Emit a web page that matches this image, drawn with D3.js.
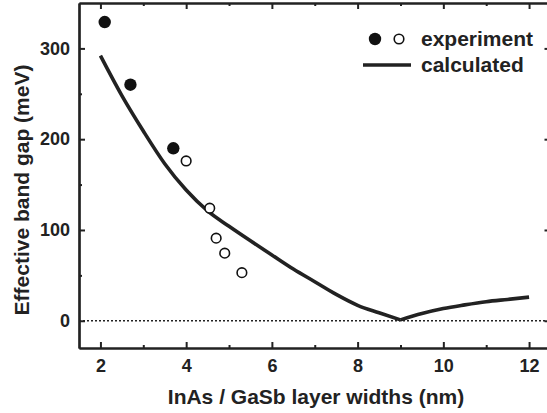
<!DOCTYPE html>
<html>
<head>
<meta charset="utf-8">
<script src="https://cdn.jsdelivr.net/npm/d3@7"></script>
<style>
  html, body { margin: 0; padding: 0; background: #fff; }
  svg { display: block; }
  text { font-family: "Liberation Sans", Arial, sans-serif; font-weight: bold; fill: #222; }
</style>
</head>
<body>
<svg id="chart" width="547" height="413"></svg>
<script>
// ---- data ----
const filledX = [2.1, 2.7, 3.7];
const filledY = [329, 260, 190];
const openX = [4.0, 4.55, 4.7, 4.9, 5.3];
const openY = [176, 124, 91, 74.5, 53];
const calcX = [2, 2.5, 3, 3.5, 4, 4.5, 5, 5.5, 6, 6.5, 7, 7.5, 8, 8.5, 9, 9.5, 10, 10.5, 11, 11.5, 12];
const calcY = [292, 248, 209, 173, 144, 121, 104, 88, 72.5, 57, 43, 29, 17, 8.8, 1, 8, 13.5, 17.5, 21, 23.5, 26];
const xTicks = [2, 4, 6, 8, 10, 12];
const xMinor = [3, 5, 7, 9, 11];
const yTicks = [0, 100, 200, 300];
const yMinor = [50, 150, 250];
const xTitle = "InAs / GaSb layer widths (nm)";
const yTitle = "Effective band gap (meV)";
const legendLabels = ["experiment", "calculated"];

// ---- layout ----
const L = 79, R = 550.5, T = 3, B = 348;
const svg = d3.select("#chart");
const x = d3.scaleLinear().domain([1.5, 12.5]).range([L, R]);
const y = d3.scaleLinear().domain([-30, 350]).range([B, T]);
const ink = "#222";

function styleAxis(g) {
  g.selectAll("path.domain").attr("stroke", ink).attr("stroke-width", 2.2);
  g.selectAll(".tick line").attr("stroke", ink).attr("stroke-width", 2);
  g.selectAll(".tick text").style("font-size", "18px").attr("fill", ink);
}

// minor ticks
svg.append("g").attr("transform", `translate(0,${B})`)
  .call(d3.axisBottom(x).tickValues(xMinor).tickSize(-3).tickSizeOuter(0).tickFormat(""))
  .call(styleAxis);
svg.append("g").attr("transform", `translate(0,${T})`)
  .call(d3.axisTop(x).tickValues(xMinor).tickSize(-3).tickSizeOuter(0).tickFormat(""))
  .call(styleAxis);
svg.append("g").attr("transform", `translate(${L},0)`)
  .call(d3.axisLeft(y).tickValues(yMinor).tickSize(-3).tickSizeOuter(0).tickFormat(""))
  .call(styleAxis);
svg.append("g").attr("transform", `translate(${R},0)`)
  .call(d3.axisRight(y).tickValues(yMinor).tickSize(-3).tickSizeOuter(0).tickFormat(""))
  .call(styleAxis);

// major axes
svg.append("g").attr("transform", `translate(0,${B})`)
  .call(d3.axisBottom(x).tickValues(xTicks).tickSize(-6).tickSizeOuter(0).tickPadding(11).tickFormat(d3.format("d")))
  .call(styleAxis);
svg.append("g").attr("transform", `translate(0,${T})`)
  .call(d3.axisTop(x).tickValues(xTicks).tickSize(-6).tickSizeOuter(0).tickFormat(""))
  .call(styleAxis);
svg.append("g").attr("transform", `translate(${L},0)`)
  .call(d3.axisLeft(y).tickValues(yTicks).tickSize(-6).tickSizeOuter(0).tickPadding(9).tickFormat(d3.format("d")))
  .call(styleAxis);
svg.append("g").attr("transform", `translate(${R},0)`)
  .call(d3.axisRight(y).tickValues(yTicks).tickSize(-6).tickSizeOuter(0).tickFormat(""))
  .call(styleAxis);

// zero dotted line
svg.append("line")
  .attr("x1", x(1.5)).attr("x2", x(12.5)).attr("y1", y(0)).attr("y2", y(0))
  .attr("stroke", ink).attr("stroke-width", 1.6).attr("stroke-dasharray", "2,2");

// calculated curve: two branches meeting at the minimum (V shape)
const calc = calcX.map((d, i) => [d, calcY[i]]);
const minIdx = calcY.indexOf(d3.min(calcY));
const lineGen = d3.line().x(d => x(d[0])).y(d => y(d[1])).curve(d3.curveMonotoneX);
[calc.slice(0, minIdx + 1), calc.slice(minIdx)].forEach(seg => {
  svg.append("path").datum(seg)
    .attr("fill", "none").attr("stroke", ink).attr("stroke-width", 3.6)
    .attr("stroke-linejoin", "miter").attr("d", lineGen);
});

// experiment points
svg.append("g").selectAll("circle").data(filledX.map((d, i) => [d, filledY[i]])).join("circle")
  .attr("cx", d => x(d[0])).attr("cy", d => y(d[1])).attr("r", 6.2).attr("fill", "#111");
svg.append("g").selectAll("circle").data(openX.map((d, i) => [d, openY[i]])).join("circle")
  .attr("cx", d => x(d[0])).attr("cy", d => y(d[1])).attr("r", 4.8)
  .attr("fill", "#fff").attr("stroke", "#111").attr("stroke-width", 1.6);

// legend
const lg = svg.append("g");
lg.append("circle").attr("cx", 375).attr("cy", 39).attr("r", 6.2).attr("fill", "#111");
lg.append("circle").attr("cx", 399).attr("cy", 39).attr("r", 4.8).attr("fill", "#fff").attr("stroke", "#111").attr("stroke-width", 1.6);
lg.append("text").attr("x", 421).attr("y", 46).style("font-size", "21px").text(legendLabels[0]);
lg.append("line").attr("x1", 363).attr("x2", 411).attr("y1", 65).attr("y2", 65).attr("stroke", ink).attr("stroke-width", 3.6);
lg.append("text").attr("x", 421).attr("y", 72).style("font-size", "21px").text(legendLabels[1]);

// titles
svg.append("text").attr("x", 316).attr("y", 404).attr("text-anchor", "middle").style("font-size", "21px").text(xTitle);
svg.append("text").attr("transform", `translate(29,190) rotate(-90)`).attr("text-anchor", "middle").style("font-size", "21px").text(yTitle);
</script>
</body>
</html>
